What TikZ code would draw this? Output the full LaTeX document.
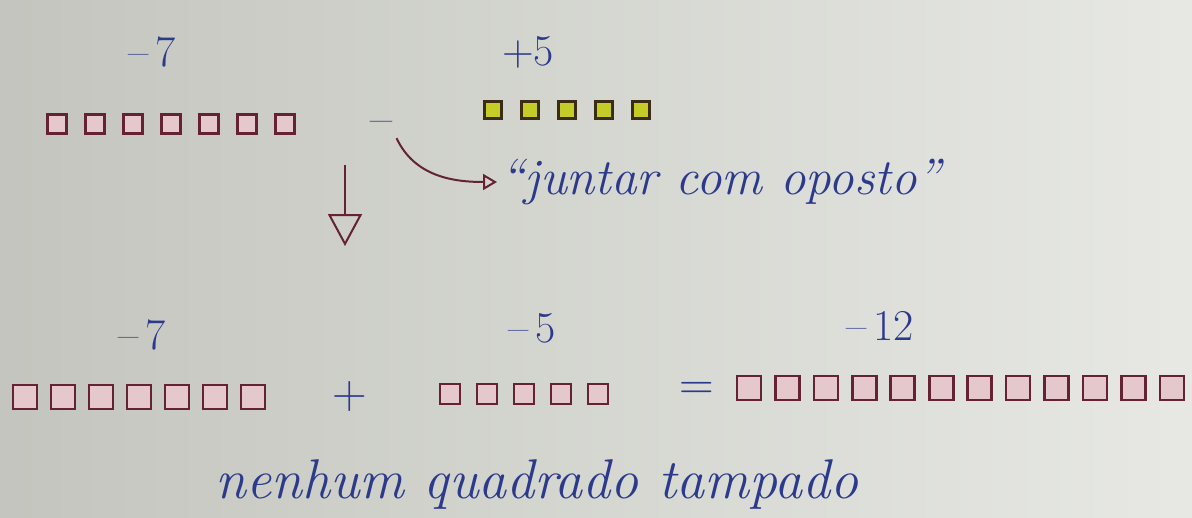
\documentclass[tikz,border=0pt]{standalone}
\usetikzlibrary{arrows.meta,positioning}
\definecolor{paper}{RGB}{212,214,206}
\definecolor{ink}{RGB}{44,58,140}
\definecolor{pen}{RGB}{100,34,50}
\definecolor{rose}{RGB}{228,200,204}
\definecolor{lime}{RGB}{196,204,40}
\definecolor{olive}{RGB}{60,44,20}

\begin{document}
\begin{tikzpicture}[x=1pt,y=-1pt,>={Triangle[open]},
 sq/.style={draw=pen,fill=rose,line width=2.6pt,minimum size=19pt,inner sep=0pt},
 ysq/.style={sq,draw=olive,fill=lime,minimum size=17pt},
 bigsq/.style={sq,minimum size=24pt},
 num/.style={text=ink,font=\fontsize{44}{46}\selectfont},
 op/.style={text=ink,font=\fontsize{48}{50}\selectfont},
 note/.style={text=ink,font=\fontsize{51}{53}\selectfont\itshape},
 link/.style={draw=pen,line width=2pt}]
 \fill[left color=paper!92!black,right color=paper!55!white] (0,0) rectangle (1192,517);
 \useasboundingbox (0,0) rectangle (1192,517);
 % first line: -7 minus +5
 \node[num] (ta) at (152,52) {–\,7};
 \node[num] (tb) at (528,52) {+5};
 \foreach \i in {1,...,7} \node[sq] (a\i) at ({19+38*\i},124) {};
 \node[op] (minus) at (382,128) {–};
 \foreach \i in {1,...,5} \node[ysq] (b\i) at ({456+37*\i},110) {};
 \node[note,anchor=west] (hint) at (497,182) {``juntar com oposto''};
 \coordinate (dtop) at (345,165);
 \coordinate (dbot) at (345,246);
 \draw[link,-{Triangle[open,length=14pt,width=16pt]}] (minus.south east) to[out=-65,in=180] (hint.west);
 \draw[link,-{Triangle[open,length=32pt,width=34pt]}] (dtop)--(dbot);
 % second line: -7 plus -5 equals -12
 \node[num] (ba) at (142,335) {–\,7};
 \node[num] (bb) at (532,328) {–\,5};
 \node[num] (bc) at (880,326) {–\,12};
 \foreach \i in {1,...,7} \node[bigsq] (c\i) at ({-13+38*\i},397) {};
 \node[op] (plus) at (350,397) {+};
 \foreach \i in {1,...,5} \node[bigsq,minimum size=20pt] (d\i) at ({413+37*\i},394) {};
 \node[op] (eq) at (697,391) {=};
 \foreach \i in {1,...,12} \node[bigsq] (e\i) at ({710.5+38.45*\i},388) {};
 \node[note,font=\fontsize{56}{58}\selectfont\itshape] (none) at (537,484) {nenhum quadrado tampado};
\end{tikzpicture}
\end{document}
